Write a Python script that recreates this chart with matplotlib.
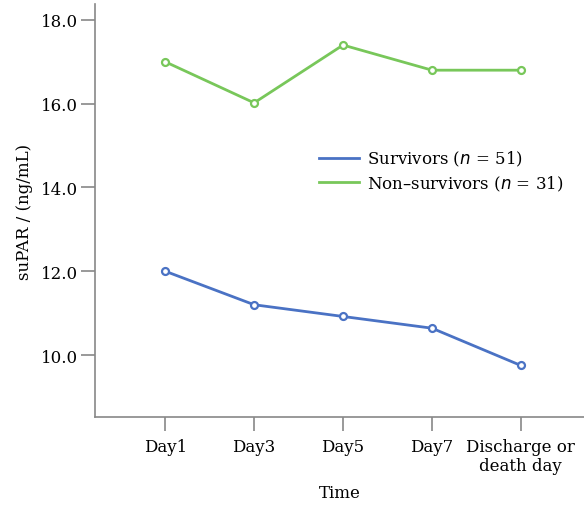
import matplotlib
matplotlib.use("Agg")
import matplotlib.pyplot as plt
from matplotlib.lines import Line2D

categories = ["Day1", "Day3", "Day5", "Day7", "Discharge or\ndeath day"]
survivors = [12.0, 11.2, 10.92, 10.64, 9.75]
non_survivors = [17.0, 16.02, 17.4, 16.8, 16.8]
yticks = [10.0, 12.0, 14.0, 16.0, 18.0]
labels = ["Survivors ($n$ = 51)", "Non\u2013survivors ($n$ = 31)"]

plt.rcParams['font.family'] = ['DejaVu Serif']
fs = 12

fig = plt.figure(figsize=(5.84, 5.06), dpi=100)
ax = fig.add_axes([95/584, 1 - 418/506, (584 - 95)/584, (418 - 5)/506])

x = list(range(len(categories)))
blue = "#4a72c4"
green = "#78c75a"
ax.plot(x, survivors, color=blue, lw=2, marker='o', ms=5, mfc='white', mec=blue, mew=1.6)
ax.plot(x, non_survivors, color=green, lw=2, marker='o', ms=5, mfc='white', mec=green, mew=1.6)

ax.set_xlim(-0.79, 4.71)
ax.set_ylim(8.52, 18.38)
ax.set_xticks(x)
ax.set_xticklabels(categories, fontsize=fs)
ax.set_yticks(yticks)
ax.set_yticklabels([f"{v:.1f}" for v in yticks], fontsize=fs)
for s in ['top', 'right']:
    ax.spines[s].set_visible(False)
for s in ['left', 'bottom']:
    ax.spines[s].set_color('#888888')
    ax.spines[s].set_linewidth(1.2)
ax.tick_params(axis='both', direction='out', length=10, width=1.2, color='#888888')
ax.tick_params(axis='x', pad=5)
ax.tick_params(axis='y', pad=2)
ax.set_xlabel("Time", fontsize=fs, labelpad=7)
ax.set_ylabel("suPAR / (ng/mL)", fontsize=fs, labelpad=6)

handles = [Line2D([0], [0], color=blue, lw=2), Line2D([0], [0], color=green, lw=2)]
ax.legend(handles, labels, loc='upper left', bbox_to_anchor=(0.428, 0.685), frameon=False,
          fontsize=fs, handlelength=2.4, handletextpad=0.45, labelspacing=0.3)

fig.savefig("out.png", dpi=100)
